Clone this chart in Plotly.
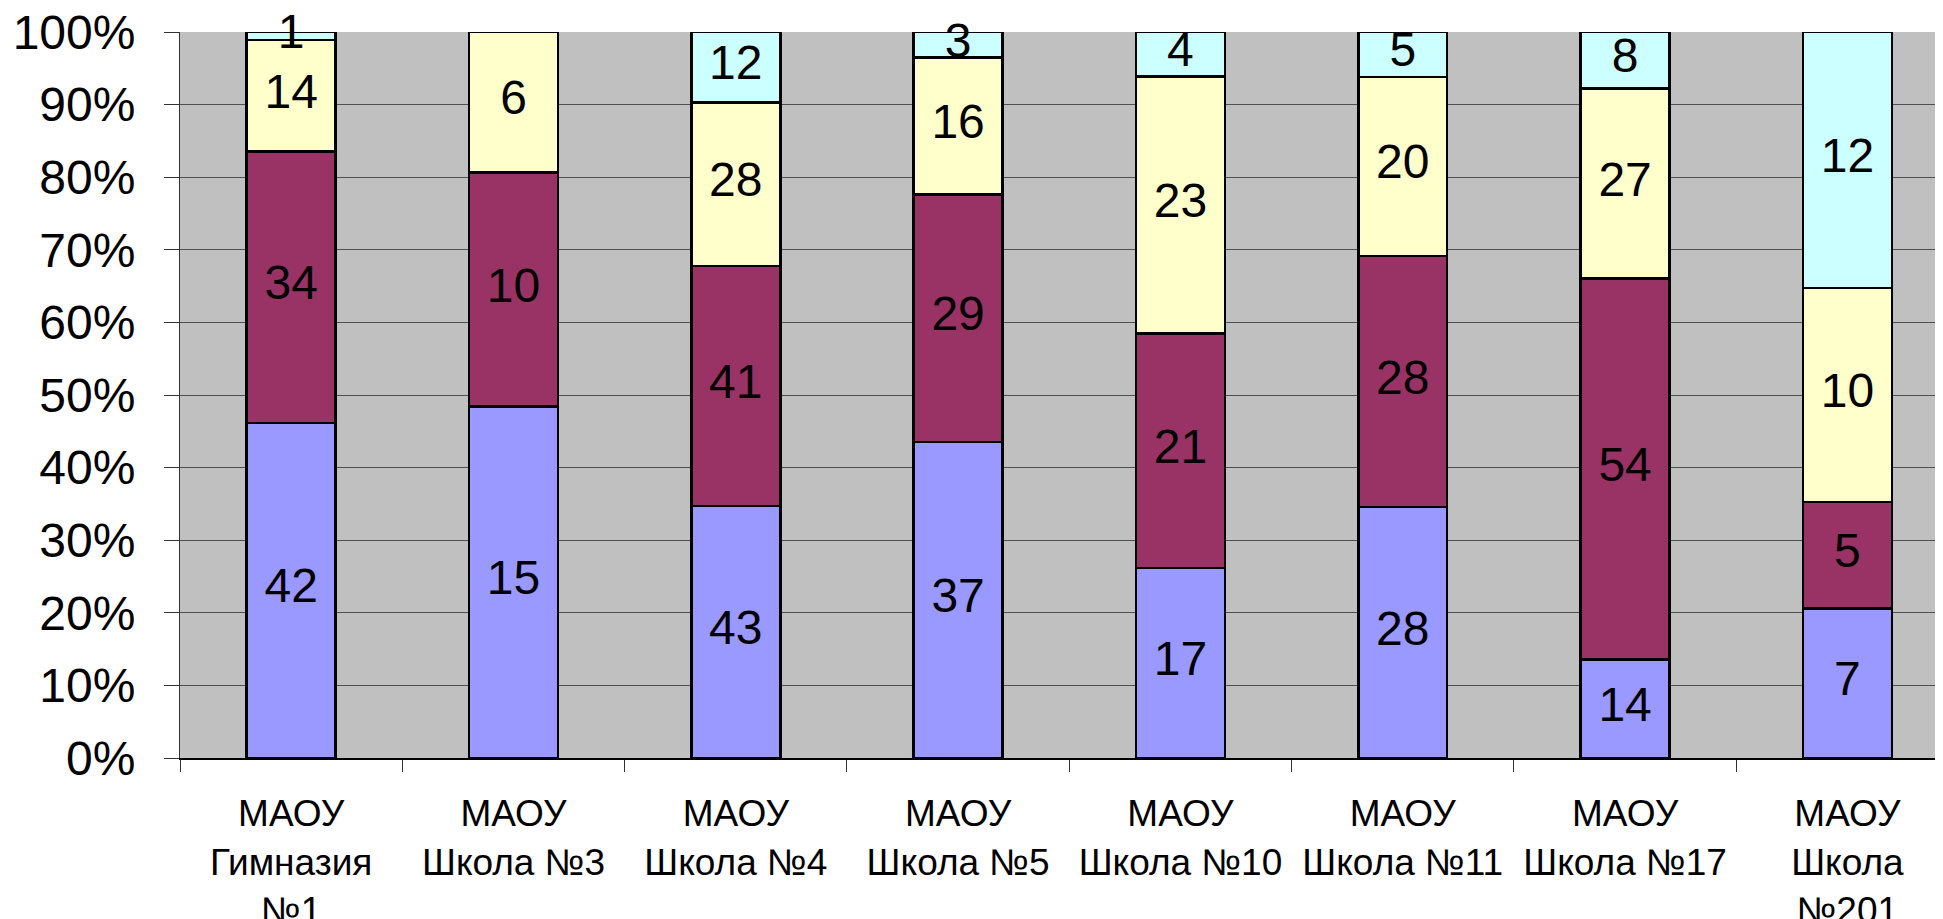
import plotly.graph_objects as go

categories = [
    "МАОУ<br>Гимназия<br>№1",
    "МАОУ<br>Школа №3",
    "МАОУ<br>Школа №4",
    "МАОУ<br>Школа №5",
    "МАОУ<br>Школа №10",
    "МАОУ<br>Школа №11",
    "МАОУ<br>Школа №17",
    "МАОУ<br>Школа<br>№201",
]
series1 = [42, 15, 43, 37, 17, 28, 14, 7]
series2 = [34, 10, 41, 29, 21, 28, 54, 5]
series3 = [14, 6, 28, 16, 23, 20, 27, 10]
series4 = [1, 0, 12, 3, 4, 5, 8, 12]
colors = ["#9999FF", "#993366", "#FFFFCC", "#CCFFFF"]
y_ticks = [0, 10, 20, 30, 40, 50, 60, 70, 80, 90, 100]
y_tick_labels = ["0%", "10%", "20%", "30%", "40%", "50%", "60%", "70%", "80%", "90%", "100%"]

all_series = [series1, series2, series3, series4]
font_family = "Liberation Sans, Arial, sans-serif"

fig = go.Figure()
for s, c in zip(all_series, colors):
    fig.add_trace(go.Bar(
        x=categories, y=s, marker=dict(color=c, line=dict(color="black", width=2.5)),
        width=0.4, showlegend=False, hoverinfo="skip",
    ))

# data labels at segment midpoints (percent of each column total)
totals = [sum(v) for v in zip(*all_series)]
lx, ly, lt = [], [], []
for i, cat in enumerate(categories):
    base = 0.0
    for s in all_series:
        pct = s[i] / totals[i] * 100
        if s[i] > 0:
            lx.append(cat)
            ly.append(base + pct / 2)
            lt.append(str(s[i]))
        base += pct
fig.add_trace(go.Scatter(
    x=lx, y=ly, text=lt, mode="text", textposition="middle center",
    textfont=dict(family=font_family, size=48, color="black"),
    showlegend=False, hoverinfo="skip", cliponaxis=False,
))

fig.update_layout(
    barmode="stack", barnorm="percent",
    width=1935, height=911,
    margin=dict(l=172, r=0, t=24, b=161, autoexpand=False),
    paper_bgcolor="white", plot_bgcolor="#C0C0C0",
    font=dict(family=font_family, color="black"),
)
fig.update_xaxes(
    type="category", range=[-0.5, 7.43], tickson="boundaries",
    ticks="outside", ticklen=12, tickcolor="#333333", tickwidth=1,
    showgrid=False, showline=True, linecolor="black", linewidth=2,
    tickfont=dict(size=37, family=font_family, color="black"),
    ticklabelstandoff=22, automargin=False, ticklabeloverflow="allow",
)
fig.update_yaxes(
    range=[0, 100], tickvals=y_ticks, ticktext=y_tick_labels,
    ticks="outside", ticklen=15, tickcolor="#333333", tickwidth=1,
    showgrid=True, gridcolor="#505050", gridwidth=1,
    showline=True, linecolor="#333333", linewidth=1,
    tickfont=dict(size=48, family=font_family, color="black"),
    ticklabelstandoff=19, zeroline=False, automargin=False,
    ticklabeloverflow="allow",
)

fig.write_html("out.html")
